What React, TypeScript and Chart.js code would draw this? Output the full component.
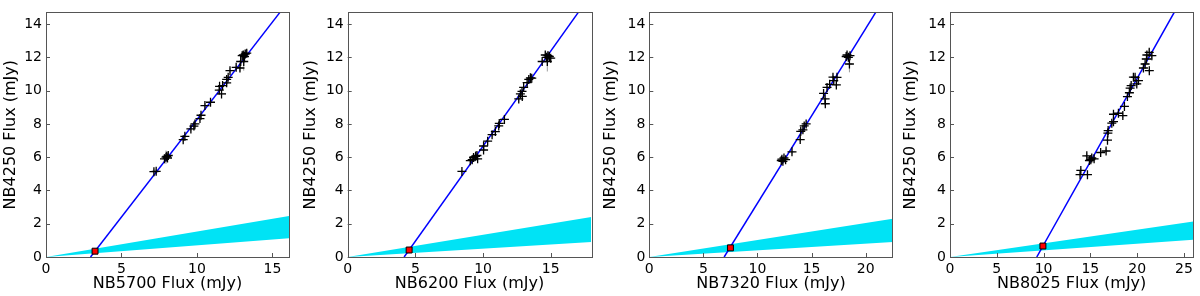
import React, { useEffect, useRef } from "react";
import { Chart, registerables } from "chart.js";

Chart.register(...registerables);

// ---------- data ----------
const yTitle = "NB4250 Flux (mJy)";
const xTitles = ["NB5700 Flux (mJy)", "NB6200 Flux (mJy)", "NB7320 Flux (mJy)", "NB8025 Flux (mJy)"];
const xMaxes = [16.1, 18.0, 22.5, 26.0];
const yMax = 14.7;
const yTickValues = [0, 2, 4, 6, 8, 10, 12, 14];
const xTickValues = [0, 5, 10, 15, 20, 25];

// panel 1 (NB5700)
const p1X = [7.15, 7.3, 7.85, 7.95, 8.0, 8.05, 8.1, 9.09, 9.2, 9.6, 9.8, 9.87, 10.2, 10.27, 10.53, 10.9, 11.48, 11.5, 11.63, 11.7, 11.97, 12.07, 12.19, 11.97, 12.6, 12.85, 12.9, 13.0, 13.07, 13.15, 13.2, 13.1, 13.3];
const p1Y = [5.13, 5.15, 5.9, 6.0, 6.05, 5.95, 6.1, 7.05, 7.25, 7.7, 7.87, 8.0, 8.32, 8.52, 9.1, 9.3, 10.03, 10.26, 9.8, 10.3, 10.67, 10.8, 11.2, 10.47, 11.4, 11.36, 11.75, 12.1, 12.14, 12.05, 12.2, 11.75, 12.25];
const p1Xe = [0.15, 0.15, 0.15, 0.2, 0.15, 0.15, 0.15, 0.15, 0.15, 0.15, 0.15, 0.15, 0.12, 0.12, 0.15, 0.15, 0.15, 0.15, 0.3, 0.15, 0.15, 0.15, 0.15, 0.15, 0.15, 0.2, 0.2, 0.2, 0.2, 0.2, 0.2, 0.25, 0.2];
const p1Ye = [0.15, 0.15, 0.2, 0.4, 0.2, 0.2, 0.2, 0.15, 0.15, 0.15, 0.15, 0.15, 0.15, 0.15, 0.15, 0.15, 0.2, 0.15, 0.15, 0.15, 0.15, 0.15, 0.15, 0.15, 0.15, 0.2, 0.2, 0.25, 0.2, 0.3, 0.25, 0.55, 0.2];
const p1Line = { x: [2.95, 15.5], y: [0, 14.7] };
const p1Red = { x: [3.25], y: [0.35] };
const p1Band = { x: [0, 16.1], upper: [0, 2.46], lower: [0, 1.13] };

// panel 2 (NB6200)
const p2X = [8.44, 9.06, 9.2, 9.3, 9.45, 9.55, 9.6, 10.04, 10.04, 10.34, 10.67, 10.91, 11.16, 11.2, 11.58, 12.64, 12.76, 12.88, 12.9, 13.0, 13.26, 13.38, 13.5, 13.6, 14.37, 14.6, 14.7, 14.8, 14.9, 14.75, 15.0];
const p2Y = [5.14, 5.79, 5.85, 5.98, 6.05, 6.1, 5.9, 6.67, 6.43, 6.96, 7.35, 7.54, 7.88, 8.03, 8.27, 9.5, 9.8, 9.95, 9.65, 10.19, 10.48, 10.67, 10.77, 10.75, 11.75, 12.14, 12.0, 12.1, 12.05, 11.75, 11.95];
const p2Xe = [0.15, 0.15, 0.15, 0.15, 0.2, 0.15, 0.15, 0.15, 0.15, 0.15, 0.15, 0.15, 0.15, 0.15, 0.15, 0.15, 0.15, 0.2, 0.15, 0.15, 0.15, 0.15, 0.15, 0.15, 0.15, 0.2, 0.2, 0.2, 0.25, 0.2, 0.25];
const p2Ye = [0.1, 0.15, 0.15, 0.2, 0.3, 0.2, 0.15, 0.15, 0.15, 0.15, 0.15, 0.15, 0.15, 0.15, 0.12, 0.15, 0.15, 0.15, 0.15, 0.15, 0.15, 0.15, 0.15, 0.15, 0.15, 0.2, 0.2, 0.25, 0.2, 0.6, 0.2];
const p2Line = { x: [4.17, 17.04], y: [0, 14.7] };
const p2Red = { x: [4.54], y: [0.42] };
const p2Band = { x: [0, 18.0], upper: [0, 2.4], lower: [0, 0.9] };

// panel 3 (NB7320)
const p3X = [12.2, 12.26, 12.35, 12.45, 12.6, 13.19, 13.95, 14.0, 14.2, 14.32, 14.5, 16.27, 16.25, 16.11, 16.43, 16.67, 16.98, 17.05, 17.29, 17.35, 18.2, 18.28, 18.4, 18.5, 18.55];
const p3Y = [5.8, 5.88, 5.75, 5.95, 5.85, 6.32, 7.06, 7.55, 7.64, 7.88, 8.0, 9.21, 9.5, 9.83, 10.19, 10.38, 10.81, 10.6, 10.34, 10.8, 12.05, 12.14, 12.0, 11.6, 12.1];
const p3Xe = [0.2, 0.2, 0.2, 0.2, 0.2, 0.25, 0.2, 0.2, 0.2, 0.2, 0.2, 0.15, 0.15, 0.2, 0.2, 0.2, 0.2, 0.2, 0.2, 0.2, 0.25, 0.25, 0.25, 0.25, 0.3];
const p3Ye = [0.15, 0.2, 0.15, 0.15, 0.15, 0.15, 0.15, 0.2, 0.2, 0.2, 0.2, 0.15, 0.15, 0.15, 0.15, 0.15, 0.15, 0.15, 0.15, 0.15, 0.2, 0.2, 0.25, 0.5, 0.2];
const p3Line = { x: [6.92, 20.93], y: [0, 14.7] };
const p3Red = { x: [7.5], y: [0.55] };
const p3Band = { x: [0, 22.5], upper: [0, 2.3], lower: [0, 0.9] };

// panel 4 (NB8025)
const p4X = [13.98, 13.9, 14.69, 14.62, 14.9, 15.05, 15.15, 15.4, 16.1, 16.68, 16.83, 16.87, 16.9, 17.29, 17.47, 17.47, 18.0, 18.47, 18.64, 18.96, 19.17, 19.25, 19.36, 19.6, 19.78, 19.96, 20.14, 20.67, 20.85, 21.04, 21.29, 21.57, 21.3, 21.0];
const p4Y = [5.2, 4.95, 4.95, 6.08, 5.8, 5.85, 5.95, 5.9, 6.28, 6.37, 7.02, 7.45, 7.6, 8.04, 8.13, 8.58, 8.64, 8.5, 9.05, 9.64, 9.87, 10.15, 10.3, 10.81, 10.8, 10.4, 10.6, 11.36, 11.6, 12.14, 12.3, 12.1, 11.2, 11.9];
const p4Xe = [0.2, 0.2, 0.2, 0.2, 0.25, 0.25, 0.25, 0.2, 0.2, 0.2, 0.2, 0.2, 0.2, 0.2, 0.2, 0.2, 0.2, 0.2, 0.2, 0.2, 0.2, 0.2, 0.2, 0.25, 0.2, 0.2, 0.2, 0.25, 0.4, 0.3, 0.3, 0.3, 0.2, 0.6];
const p4Ye = [0.15, 0.15, 0.1, 0.15, 0.2, 0.2, 0.2, 0.15, 0.15, 0.15, 0.15, 0.15, 0.15, 0.15, 0.15, 0.15, 0.15, 0.15, 0.15, 0.15, 0.15, 0.15, 0.15, 0.15, 0.15, 0.15, 0.15, 0.15, 0.15, 0.2, 0.2, 0.2, 0.15, 0.15];
const p4Line = { x: [9.27, 23.96], y: [0, 14.7] };
const p4Red = { x: [9.93], y: [0.66] };
const p4Band = { x: [0, 26.0], upper: [0, 2.13], lower: [0, 1.04] };

const panelX = [p1X, p2X, p3X, p4X];
const panelY = [p1Y, p2Y, p3Y, p4Y];
const panelXe = [p1Xe, p2Xe, p3Xe, p4Xe];
const panelYe = [p1Ye, p2Ye, p3Ye, p4Ye];
const panelLine = [p1Line, p2Line, p3Line, p4Line];
const panelRed = [p1Red, p2Red, p3Red, p4Red];
const panelBand = [p1Band, p2Band, p3Band, p4Band];

// layout (per 300px panel)
const plotLeft = [46, 47.7, 49.3, 50];
const plotRight = [289, 291.3, 292.7, 293.3];
const plotTop = 6;
const plotBottom = 257;
const W = 300;
const H = 296;

const FONT = "'DejaVu Sans', 'Liberation Sans', sans-serif";

const framePlugin = {
  id: "frameTicks",
  afterDatasetsDraw(chart: any) {
    const { ctx, chartArea, scales } = chart;
    ctx.save();
    ctx.strokeStyle = "#555";
    ctx.lineWidth = 1;
    ctx.beginPath();
    for (const t of scales.x.ticks) {
      const px = Math.round(scales.x.getPixelForValue(t.value)) + 0.5;
      ctx.moveTo(px, chartArea.bottom);
      ctx.lineTo(px, chartArea.bottom - 4);
    }
    for (const t of scales.y.ticks) {
      const py = Math.round(scales.y.getPixelForValue(t.value)) + 0.5;
      ctx.moveTo(chartArea.left, py);
      ctx.lineTo(chartArea.left + 4, py);
    }
    ctx.stroke();
    ctx.strokeRect(
      Math.round(chartArea.left) + 0.5,
      Math.round(chartArea.top) + 0.5,
      Math.round(chartArea.right - chartArea.left),
      Math.round(chartArea.bottom - chartArea.top)
    );
    ctx.restore();
  },
};

function Panel({ idx }: { idx: number }) {
  const ref = useRef<HTMLCanvasElement | null>(null);
  useEffect(() => {
    if (!ref.current) return;
    const xs = panelX[idx];
    const ys = panelY[idx];
    const xe = panelXe[idx];
    const ye = panelYe[idx];
    const line = panelLine[idx];
    const red = panelRed[idx];
    const band = panelBand[idx];
    const xMax = xMaxes[idx];

    const errData: any[] = [];
    xs.forEach((x, i) => {
      errData.push({ x, y: ys[i] - ye[i] }, { x, y: ys[i] + ye[i] }, { x, y: null });
      errData.push({ x: x - xe[i], y: ys[i] }, { x: x + xe[i], y: ys[i] }, { x, y: null });
    });

    const chart = new Chart(ref.current, {
      type: "scatter",
      data: {
        datasets: [
          {
            label: "upper",
            data: band.x.map((x, i) => ({ x, y: band.upper[i] })),
            showLine: true,
            pointRadius: 0,
            borderWidth: 0,
            borderColor: "rgba(0,0,0,0)",
            backgroundColor: "#00e3f5",
            fill: "+1",
            order: 10,
          },
          {
            label: "lower",
            data: band.x.map((x, i) => ({ x, y: band.lower[i] })),
            showLine: true,
            pointRadius: 0,
            borderWidth: 0,
            borderColor: "rgba(0,0,0,0)",
            fill: false,
            order: 10,
          },
          {
            label: "err",
            data: errData,
            showLine: true,
            spanGaps: false,
            pointRadius: 0,
            borderWidth: 1,
            borderColor: "rgba(90,90,90,0.6)",
            order: 8,
          },
          {
            label: "fit",
            data: line.x.map((x, i) => ({ x, y: line.y[i] })),
            showLine: true,
            pointRadius: 0,
            borderWidth: 1.5,
            borderColor: "#0000ff",
            order: 6,
          },
          {
            label: "data",
            data: xs.map((x, i) => ({ x, y: ys[i] })),
            pointStyle: "cross",
            pointRadius: 4.5,
            pointBorderWidth: 1.3,
            borderColor: "#000",
            backgroundColor: "#000",
            order: 4,
          },
          {
            label: "red",
            data: red.x.map((x, i) => ({ x, y: red.y[i] })),
            pointStyle: "rect",
            pointRadius: 4.2,
            pointBorderWidth: 1,
            borderColor: "#000",
            backgroundColor: "#ff0000",
            order: 1,
          },
        ],
      },
      options: {
        animation: false,
        responsive: false,
        events: [],
        layout: {
          padding: { left: 0, top: plotTop, right: W - plotRight[idx], bottom: 0 },
        },
        plugins: { legend: { display: false }, tooltip: { enabled: false } },
        scales: {
          x: {
            type: "linear",
            min: 0,
            max: xMax,
            grid: { display: false, drawTicks: false },
            border: { display: false },
            afterFit: (s: any) => {
              s.height = H - plotBottom;
            },
            afterBuildTicks: (s: any) => {
              s.ticks = xTickValues.filter((v) => v <= xMax).map((v) => ({ value: v }));
            },
            ticks: {
              padding: 4,
              color: "#000",
              font: { family: FONT, size: 14 },
              maxRotation: 0,
              callback: (v: any) => String(v),
            },
            title: {
              display: true,
              text: xTitles[idx],
              color: "#000",
              font: { family: FONT, size: 16 },
              padding: { top: 0, bottom: 3 },
            },
          },
          y: {
            type: "linear",
            min: 0,
            max: yMax,
            grid: { display: false, drawTicks: false },
            border: { display: false },
            afterFit: (s: any) => {
              s.width = plotLeft[idx];
            },
            afterBuildTicks: (s: any) => {
              s.ticks = yTickValues.map((v) => ({ value: v }));
            },
            ticks: {
              padding: 4,
              color: "#000",
              font: { family: FONT, size: 14 },
              callback: (v: any) => String(v),
            },
            title: {
              display: true,
              text: yTitle,
              color: "#000",
              font: { family: FONT, size: 16 },
              padding: { top: 1, bottom: 0 },
            },
          },
        },
      },
      plugins: [framePlugin],
    } as any);
    return () => chart.destroy();
  }, [idx]);
  return (
    <div style={{ position: "absolute", left: idx * W, top: 0, width: W, height: H }}>
      <canvas ref={ref} width={W} height={H} style={{ display: "block" }} />
    </div>
  );
}

export default function App() {
  return (
    <div style={{ position: "fixed", left: 0, top: 0, width: 1200, height: H, background: "#fff" }}>
      {[0, 1, 2, 3].map((i) => (
        <Panel key={i} idx={i} />
      ))}
    </div>
  );
}
